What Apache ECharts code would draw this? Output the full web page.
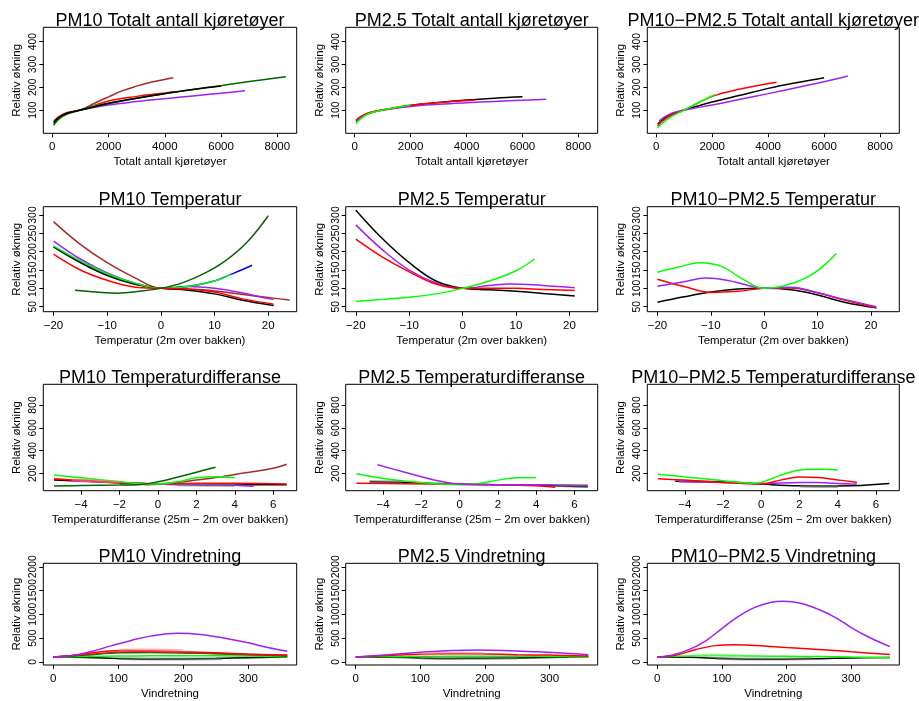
<!DOCTYPE html>
<html>
<head>
<meta charset="utf-8">
<script src="https://cdn.jsdelivr.net/npm/echarts@6/dist/echarts.min.js"></script>
<style>html,body{margin:0;padding:0;background:#fff;}#c{width:919px;height:701px;}</style>
</head>
<body>
<div id="c"></div>
<script>
// ---------- tick labels ----------
const xTicksVehicles = [0, 2000, 4000, 6000, 8000];
const yTicksVehicles = [100, 200, 300, 400];
const xTicksTemp = [-20, -10, 0, 10, 20];
const yTicksTemp = [50, 100, 150, 200, 250, 300];
const xTicksTdiff = [-4, -2, 0, 2, 4, 6];
const yTicksTdiff = [200, 400, 600, 800];
const xTicksWind = [0, 100, 200, 300];
const yTicksWind = [0, 500, 1000, 1500, 2000];

// ---------- titles ----------
const panelTitles = [
  'PM10 Totalt antall kjøretøyer', 'PM2.5 Totalt antall kjøretøyer', 'PM10\u2212PM2.5 Totalt antall kjøretøyer',
  'PM10 Temperatur', 'PM2.5 Temperatur', 'PM10\u2212PM2.5 Temperatur',
  'PM10 Temperaturdifferanse', 'PM2.5 Temperaturdifferanse', 'PM10\u2212PM2.5 Temperaturdifferanse',
  'PM10 Vindretning', 'PM2.5 Vindretning', 'PM10\u2212PM2.5 Vindretning'
];
const xAxisTitles = ['Totalt antall kjøretøyer', 'Temperatur (2m over bakken)',
  'Temperaturdifferanse (25m \u2212 2m over bakken)', 'Vindretning'];
const yAxisTitle = 'Relativ økning';

// ---------- data: panel 1 PM10 vehicles ----------
const p1_purple = [[50,42],[200,62],[500,82],[1000,100],[2000,122],[3000,137],[4000,150],[5000,162],[6000,174],[6850,185]];
const p1_red = [[50,50],[200,68],[500,88],[1000,100],[2000,140],[3000,160],[4000,175],[4300,180]];
const p1_green = [[50,32],[200,55],[500,80],[1000,100],[1500,118],[2000,130]];
const p1_brown = [[50,45],[200,62],[500,82],[1000,100],[1500,130],[2000,158],[2500,185],[3000,205],[3500,222],[4300,242]];
const p1_darkgreen = [[50,35],[200,58],[500,83],[1000,100],[2000,128],[3000,152],[4000,172],[5000,190],[6000,207],[7000,225],[8300,246]];
const p1_black = [[50,45],[200,65],[500,85],[1000,100],[2000,130],[3000,152],[4000,172],[5000,190],[6000,205]];
// panel 2 PM2.5 vehicles
const p2_black = [[50,52],[200,68],[500,86],[1000,100],[2000,120],[3000,133],[4000,144],[5000,152],[6000,158]];
const p2_purple = [[50,50],[200,66],[500,85],[1000,100],[2000,116],[3000,125],[4000,132],[5000,138],[6000,143],[6850,147]];
const p2_red = [[50,55],[200,70],[500,88],[1000,100],[2000,121],[3000,133],[4300,144]];
const p2_green = [[50,40],[200,60],[500,84],[1000,100],[1500,112],[2000,122]];
// panel 3 PM10-PM2.5 vehicles
const p3_black = [[50,38],[200,55],[500,80],[1000,100],[2000,135],[3000,165],[4000,195],[5000,220],[6000,242]];
const p3_purple = [[100,53],[300,70],[600,88],[1000,100],[2000,122],[3000,147],[4000,172],[5000,198],[6000,224],[6850,249]];
const p3_red = [[50,30],[200,50],[500,75],[1000,100],[2000,160],[3000,192],[4300,222]];
const p3_green = [[50,22],[200,40],[500,68],[1000,100],[1500,132],[2100,168]];

// panel 4 PM10 temperature
const p4_brown = [[-20,282],[-15,220],[-10,170],[-5,130],[0,100],[5,98],[10,93],[15,84],[20,75],[24,68]];
const p4_purple = [[-20,229],[-15,180],[-10,142],[-5,115],[0,100],[5,105],[10,100],[15,88],[20,72],[21,70]];
const p4_blue = [[-20,214],[-15,173],[-10,139],[-5,114],[0,100],[5,105],[10,120],[13,138],[15,150],[17,163]];
const p4_black = [[-20,213],[-15,170],[-10,135],[-5,112],[0,100],[5,95],[10,85],[15,68],[21,53]];
const p4_green = [[-20,216],[-15,175],[-10,140],[-5,115],[0,100],[5,105],[10,120],[13,138]];
const p4_red = [[-20,193],[-15,150],[-10,122],[-5,104],[0,100],[5,98],[10,90],[15,72],[21,57]];
const p4_darkgreen = [[-16,95],[-12,90],[-8,87],[-4,92],[0,100],[4,115],[8,140],[12,175],[16,225],[20,298]];
// panel 5 PM2.5 temperature
const p5_black = [[-20,313],[-15,235],[-10,170],[-5,120],[0,100],[5,96],[10,92],[15,86],[21,79]];
const p5_purple = [[-20,273],[-15,205],[-10,150],[-5,115],[0,100],[5,108],[9,112],[15,108],[21,102]];
const p5_red = [[-20,234],[-15,185],[-10,145],[-5,112],[0,100],[5,100],[10,100],[15,97],[21,94]];
const p5_green = [[-20,64],[-15,70],[-10,76],[-5,85],[0,100],[5,120],[10,148],[13.5,180]];
// panel 6 PM10-PM2.5 temperature
const p6_green = [[-20,144],[-16,158],[-12,170],[-8,160],[-4,125],[0,100],[4,108],[8,130],[11,160],[13.5,195]];
const p6_purple = [[-20,106],[-15,118],[-11,128],[-7,122],[-3,108],[0,100],[5,103],[10,88],[15,70],[21,50]];
const p6_red = [[-20,125],[-15,105],[-10,89],[-5,92],[0,100],[5,101],[10,88],[15,68],[21,47]];
const p6_black = [[-20,62],[-15,77],[-10,90],[-5,98],[0,100],[5,96],[10,82],[15,62],[21,47]];

// panel 7 PM10 temperature difference
const p7_brown = [[-5.4,150],[-4,135],[-2,112],[-0.5,100],[1,120],[2,140],[3,162],[4,190],[5,215],[6,245],[6.7,280]];
const p7_darkgreen = [[-5.4,88],[-4,92],[-2,96],[-1,100],[0,125],[1,165],[2,210],[3,253]];
const p7_green = [[-5.4,185],[-4,160],[-2,125],[-1,110],[0,105],[1,125],[2,160],[3,170],[4,160]];
const p7_red = [[-5.4,150],[-4,138],[-2,120],[0,108],[2,112],[4,112],[6.7,105]];
const p7_black = [[-5.4,140],[-4,132],[-2,118],[0,105],[2,100],[4,98],[6.7,100]];
const p7_purple = [[-4.5,130],[-2,120],[0,105],[2,100],[4,95],[5,85]];
const p7_gray = [[1,100],[2.5,95],[4,92]];
const p7_pink = [[-4.5,140],[-3,130],[-2,122]];
// panel 8 PM2.5 temperature difference
const p8_purple = [[-4.3,275],[-3,215],[-2,170],[-1,130],[0,105],[2,100],[4,100],[6.7,95]];
const p8_green = [[-5.4,195],[-4,155],[-2,118],[0,100],[1,110],[2,140],[3,160],[4,162]];
const p8_red = [[-5.4,112],[-3,108],[0,103],[2,100],[4,90],[5,78]];
const p8_black = [[-4.7,125],[-2,115],[0,103],[2,100],[4,95],[6.7,82]];
const p8_gray = [[-4.7,128],[-3.8,126],[-3,124]];
const p8_gray2 = [[5,92],[5.8,88],[6.7,86]];
// panel 9 PM10-PM2.5 temperature difference
const p9_green = [[-5.4,192],[-4,168],[-2,135],[-0.3,112],[0.5,150],[1.5,210],[2.5,235],[3.3,235],[4,228]];
const p9_red = [[-5.4,152],[-4,140],[-2,120],[0,105],[1,140],[2,168],[3,162],[4,142],[5,122]];
const p9_purple = [[-4.3,125],[-2,118],[0,110],[2,120],[3,118],[4,110],[5,105]];
const p9_black = [[-4.5,130],[-2,125],[0,105],[2,90],[4,88],[6.7,110]];
const p9_gray = [[2,88],[3,84],[4,85]];

// panel 10 PM10 wind direction
const p10_purple = [[0,100],[30,130],[60,220],[90,340],[120,450],[150,540],[190,600],[230,570],[270,480],[300,400],[330,300],[360,220]];
const p10_red = [[0,100],[40,150],[80,220],[110,240],[150,230],[200,210],[250,190],[300,160],[360,130]];
const p10_brown = [[0,100],[60,160],[120,210],[180,200],[240,180],[300,160],[360,140]];
const p10_darkgreen = [[0,100],[50,140],[100,190],[150,195],[200,185],[250,170],[300,150],[360,120]];
const p10_green = [[0,100],[50,110],[100,120],[150,125],[200,125],[250,125],[300,120],[360,100]];
const p10_black = [[0,100],[50,90],[100,70],[150,55],[200,60],[250,70],[300,85],[360,100]];
const p10_pink = [[100,245],[150,250],[200,230]];
const p10_gray = [[100,68],[180,58],[260,66]];
// panel 11 PM2.5 wind direction
const p11_purple = [[0,100],[50,150],[100,200],[150,240],[190,250],[230,240],[280,210],[330,175],[360,150]];
const p11_red = [[0,100],[50,130],[100,160],[150,170],[200,165],[250,150],[300,140],[360,120]];
const p11_green = [[0,100],[50,105],[100,110],[150,115],[200,115],[250,115],[300,110],[360,95]];
const p11_black = [[0,100],[50,95],[100,80],[150,70],[200,75],[250,80],[300,90],[360,100]];
const p11_pink = [[100,165],[150,175],[200,170]];
const p11_gray = [[100,78],[170,70],[250,78]];
// panel 12 PM10-PM2.5 wind direction
const p12_purple = [[0,100],[25,150],[50,260],[75,440],[100,700],[125,950],[150,1140],[175,1250],[195,1275],[220,1240],[250,1100],[280,900],[300,720],[330,500],[360,320]];
const p12_red = [[0,100],[30,140],[60,260],[90,340],[120,360],[160,340],[200,300],[250,260],[300,210],[360,155]];
const p12_green = [[0,100],[50,120],[90,130],[150,120],[200,115],[250,110],[300,100],[360,90]];
const p12_black = [[0,100],[50,95],[100,70],[150,55],[200,55],[250,65],[300,80],[360,90]];
const p12_lightgreen = [[60,135],[90,140],[130,132]];
const p12_gray = [[90,68],[170,56],[240,62]];

// ---------- layout ----------
const colLeft = [43.3, 345.7, 647.3];
const colWidth = [253.4, 252, 252];
const rowTop = [27.3, 206.7, 384.3, 563.3];
const rowHeight = [106, 105, 106.4, 105.7];
const xRange = [[-320, 8690], [-21.9, 25.3], [-5.96, 7.22], [-15.4, 374.5]];
const yRange = [[-2, 463], [36.4, 322.6], [47, 982], [-68, 2074]];
const xTicks = [xTicksVehicles, xTicksTemp, xTicksTdiff, xTicksWind];
const yTicks = [yTicksVehicles, yTicksTemp, yTicksTdiff, yTicksWind];

const C = {black:'#000000', red:'#FF0000', green:'#00FF00', purple:'#A020F0', darkgreen:'#006400', brown:'#A52A2A', blue:'#0000FF',
  gray:'rgba(110,110,110,0.55)', pink:'rgba(255,120,120,0.55)', lightgreen:'rgba(120,240,120,0.6)'};
const FONT = '"Liberation Sans", Arial, Helvetica, sans-serif';
const fmt = v => String(v).replace('-', '\u2212');

const panelSeries = [
  [[p1_purple,'purple'],[p1_red,'red'],[p1_green,'green'],[p1_brown,'brown'],[p1_darkgreen,'darkgreen'],[p1_black,'black']],
  [[p2_black,'black'],[p2_purple,'purple'],[p2_red,'red'],[p2_green,'green']],
  [[p3_black,'black'],[p3_purple,'purple'],[p3_red,'red'],[p3_green,'green']],
  [[p4_brown,'brown'],[p4_purple,'purple'],[p4_blue,'blue'],[p4_black,'black'],[p4_green,'green'],[p4_red,'red'],[p4_darkgreen,'darkgreen']],
  [[p5_black,'black'],[p5_purple,'purple'],[p5_red,'red'],[p5_green,'green']],
  [[p6_black,'black'],[p6_red,'red'],[p6_purple,'purple'],[p6_green,'green']],
  [[p7_brown,'brown'],[p7_black,'black'],[p7_purple,'purple'],[p7_red,'red'],[p7_green,'green'],[p7_darkgreen,'darkgreen'],[p7_gray,'gray'],[p7_pink,'pink']],
  [[p8_black,'black'],[p8_red,'red'],[p8_green,'green'],[p8_purple,'purple'],[p8_gray,'gray'],[p8_gray2,'gray']],
  [[p9_black,'black'],[p9_purple,'purple'],[p9_red,'red'],[p9_green,'green'],[p9_gray,'gray']],
  [[p10_black,'black'],[p10_green,'green'],[p10_darkgreen,'darkgreen'],[p10_brown,'brown'],[p10_red,'red'],[p10_purple,'purple'],[p10_pink,'pink'],[p10_gray,'gray']],
  [[p11_black,'black'],[p11_green,'green'],[p11_red,'red'],[p11_purple,'purple'],[p11_pink,'pink'],[p11_gray,'gray']],
  [[p12_black,'black'],[p12_green,'green'],[p12_red,'red'],[p12_purple,'purple'],[p12_lightgreen,'lightgreen'],[p12_gray,'gray']]
];
const faint = {gray:1, pink:1, lightgreen:1};

const grids = [], xAxes = [], yAxes = [], series = [], graphics = [];
for (let i = 0; i < 12; i++) {
  const r = Math.floor(i / 3), c = i % 3;
  grids.push({left: colLeft[c], top: rowTop[r], width: colWidth[c], height: rowHeight[r],
    show: true, borderColor: '#000', borderWidth: 1, backgroundColor: 'transparent', containLabel: false});
  xAxes.push({type: 'value', gridIndex: i, min: xRange[r][0], max: xRange[r][1], position: 'bottom',
    axisLine: {show: false, onZero: false}, splitLine: {show: false},
    axisTick: {show: true, length: 4, inside: false, customValues: xTicks[r], lineStyle: {color: '#000'}},
    axisLabel: {customValues: xTicks[r], formatter: fmt, color: '#000', fontFamily: FONT, fontSize: 11.5, margin: 8,
      showMinLabel: true, showMaxLabel: true, hideOverlap: false},
    name: xAxisTitles[r], nameLocation: 'middle', nameGap: 23,
    nameTextStyle: {color: '#000', fontFamily: FONT, fontSize: 11.5}});
  yAxes.push({type: 'value', gridIndex: i, min: yRange[r][0], max: yRange[r][1], position: 'left',
    axisLine: {show: false, onZero: false}, splitLine: {show: false},
    axisTick: {show: true, length: 4, inside: false, customValues: yTicks[r], lineStyle: {color: '#000'}},
    axisLabel: {customValues: yTicks[r], rotate: 90, formatter: fmt, color: '#000', fontFamily: FONT, fontSize: 10.4, margin: 5,
      interval: 0, showMinLabel: true, showMaxLabel: true, hideOverlap: false},
    name: yAxisTitle, nameLocation: 'middle', nameGap: 20, nameRotate: 90,
    nameTextStyle: {color: '#000', fontFamily: FONT, fontSize: 11.5}});
  graphics.push({type: 'text', x: colLeft[c] + colWidth[c] / 2, y: rowTop[r] - 6.5, z: 100,
    style: {text: panelTitles[i], align: 'center', verticalAlign: 'middle', fill: '#000', font: '18px ' + FONT}});
  panelSeries[i].forEach(([data, col]) => {
    series.push({type: 'line', xAxisIndex: i, yAxisIndex: i, data: data, showSymbol: false, symbol: 'none',
      smooth: 0.4, clip: true, silent: true, animation: false,
      lineStyle: {color: C[col], width: faint[col] ? 3 : 1.5}, itemStyle: {color: C[col]}});
  });
}

const chart = echarts.init(document.getElementById('c'), null, {renderer: 'canvas'});
chart.setOption({
  animation: false,
  backgroundColor: '#fff',
  grid: grids, xAxis: xAxes, yAxis: yAxes, series: series,
  graphic: graphics
});
</script>
</body>
</html>
